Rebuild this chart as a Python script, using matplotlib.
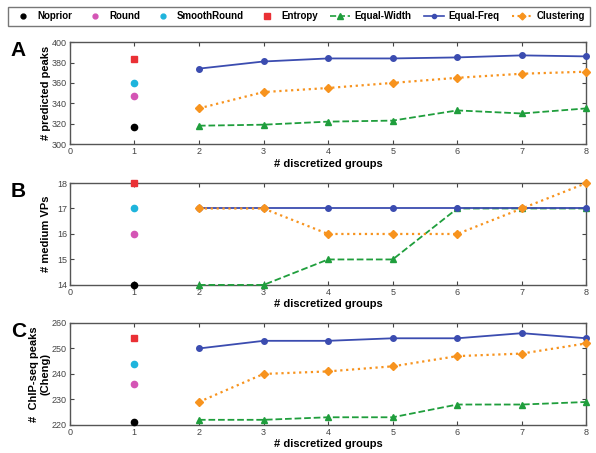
import matplotlib.pyplot as plt
from matplotlib.lines import Line2D

plt.rcParams['font.family'] = ['Liberation Sans', 'DejaVu Sans']

groups = [2, 3, 4, 5, 6, 7, 8]

# Panel A: # predicted peaks
a_noprior, a_round, a_smooth, a_entropy = 317, 347, 360, 383
a_width = [318, 319, 322, 323, 333, 330, 335]
a_freq = [374, 381, 384, 384, 385, 387, 386]
a_clust = [335, 351, 355, 360, 365, 369, 371]

# Panel B: # medium VPs
b_noprior, b_round, b_smooth, b_entropy = 14, 16, 17, 18
b_width = [14, 14, 15, 15, 17, 17, 17]
b_freq = [17, 17, 17, 17, 17, 17, 17]
b_clust = [17, 17, 16, 16, 16, 17, 18]

# Panel C: # ChIP-seq peaks (Cheng)
c_noprior, c_round, c_smooth, c_entropy = 221, 236, 244, 254
c_width = [222, 222, 223, 223, 228, 228, 229]
c_freq = [250, 253, 253, 254, 254, 256, 254]
c_clust = [229, 240, 241, 243, 247, 248, 252]

colors = {
    'Noprior': '#000000',
    'Round': '#d455b5',
    'SmoothRound': '#1eb4dc',
    'Entropy': '#ea3035',
    'Equal-Width': '#1f9e3c',
    'Equal-Freq': '#3b4cb0',
    'Clustering': '#f7931e',
}

panels = [
    ('A', '# predicted peaks', (a_noprior, a_round, a_smooth, a_entropy),
     a_width, a_freq, a_clust, (300, 400), list(range(300, 401, 20)), 0.682),
    ('B', '# medium VPs', (b_noprior, b_round, b_smooth, b_entropy),
     b_width, b_freq, b_clust, (14, 18), list(range(14, 19)), 0.371),
    ('C', '#  ChIP-seq peaks\n(Cheng)', (c_noprior, c_round, c_smooth, c_entropy),
     c_width, c_freq, c_clust, (220, 260), list(range(220, 261, 10)), 0.062),
]

fig = plt.figure(figsize=(5.96, 4.53), dpi=100, facecolor='white')

for letter, ylabel, singles, width, freq, clust, ylim, yticks, bottom in panels:
    ax = fig.add_axes([0.117, bottom, 0.867, 0.225])
    ax.plot(groups, width, color=colors['Equal-Width'], ls='--', lw=1.3,
            marker='^', ms=4.5, clip_on=False, zorder=3)
    ax.plot(groups, freq, color=colors['Equal-Freq'], ls='-', lw=1.3,
            marker='o', ms=4, clip_on=False, zorder=3)
    ax.plot(groups, clust, color=colors['Clustering'], ls=':', lw=1.6,
            marker='D', ms=4.5, clip_on=False, zorder=4)
    ax.plot([1], [singles[0]], 'o', color=colors['Noprior'], ms=4.5, clip_on=False, zorder=5)
    ax.plot([1], [singles[1]], 'o', color=colors['Round'], ms=4.5, clip_on=False, zorder=5)
    ax.plot([1], [singles[2]], 'o', color=colors['SmoothRound'], ms=4.5, clip_on=False, zorder=5)
    ax.plot([1], [singles[3]], 's', color=colors['Entropy'], ms=5, clip_on=False, zorder=5)

    ax.set_xlim(0, 8)
    ax.set_ylim(*ylim)
    ax.set_xticks(range(0, 9))
    ax.set_yticks(yticks)
    ax.tick_params(direction='in', top=True, right=True, length=3, width=0.8,
                   labelsize=6.5, labelcolor='#444444', pad=2, color='#444444')
    for sp in ax.spines.values():
        sp.set_color('#555555')
        sp.set_linewidth(1.0)
    ax.set_xlabel('# discretized groups', fontsize=8, fontweight='bold', labelpad=2)
    ax.set_ylabel(ylabel, fontsize=8, fontweight='bold')
    ax.yaxis.set_label_coords(-0.037, 0.5)
    fig.text(0.018, bottom + 0.228, letter, fontsize=15, fontweight='bold',
             va='top', ha='left')

handles = [
    Line2D([], [], ls='none', marker='o', ms=3.5, color=colors['Noprior'], label='Noprior'),
    Line2D([], [], ls='none', marker='o', ms=3.5, color=colors['Round'], label='Round'),
    Line2D([], [], ls='none', marker='o', ms=3.5, color=colors['SmoothRound'], label='SmoothRound'),
    Line2D([], [], ls='none', marker='s', ms=4, color=colors['Entropy'], label='Entropy'),
    Line2D([], [], ls='--', lw=1.2, marker='^', ms=4, color=colors['Equal-Width'], label='Equal-Width'),
    Line2D([], [], ls='-', lw=1.2, marker='o', ms=3, color=colors['Equal-Freq'], label='Equal-Freq'),
    Line2D([], [], ls=':', lw=1.5, marker='D', ms=3.5, color=colors['Clustering'], label='Clustering'),
]
leg = fig.legend(handles=handles, loc='upper center', bbox_to_anchor=(0.502, 0.992),
                 ncol=7, frameon=True, fancybox=False,
                 handlelength=2.0, handletextpad=0.5, columnspacing=1.3,
                 borderpad=0.5, borderaxespad=0.3, prop={'weight': 'bold', 'size': 7})
leg.get_frame().set_edgecolor('#555555')
leg.get_frame().set_linewidth(1.0)

plt.savefig('out.png', dpi=100, facecolor='white')
